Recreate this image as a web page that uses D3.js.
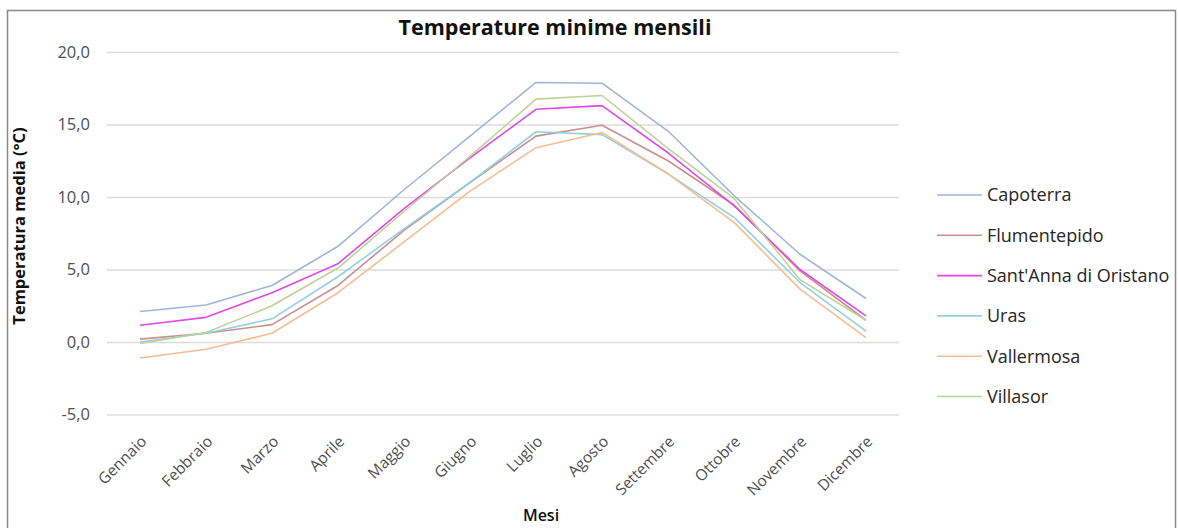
<!DOCTYPE html>
<html>
<head>
<meta charset="utf-8">
<script src="https://cdn.jsdelivr.net/npm/d3@7"></script>
<style>
  html, body { margin: 0; padding: 0; background: #ffffff; }
  svg { display: block; }
  text { font-family: "Open Sans", "Liberation Sans", sans-serif; }
</style>
</head>
<body>
<svg id="chart" width="1178" height="528"></svg>
<script>
// Mesi dell'anno (asse delle categorie)
const months = ["Gennaio", "Febbraio", "Marzo", "Aprile", "Maggio", "Giugno",
                "Luglio", "Agosto", "Settembre", "Ottobre", "Novembre", "Dicembre"];

// Temperature minime medie mensili per stazione (°C)
const capoterra    = [2.1, 2.55, 3.9, 6.6, 10.5, 14.2, 17.9, 17.85, 14.55, 10.1, 6.05, 3.0];
const flumentepido = [0.2, 0.6, 1.2, 3.9, 7.7, 11.0, 14.2, 14.95, 12.5, 9.45, 4.9, 1.5];
const santAnna     = [1.15, 1.7, 3.4, 5.4, 9.2, 12.7, 16.05, 16.3, 13.05, 9.4, 5.0, 1.8];
const uras         = [0.0, 0.6, 1.6, 4.5, 7.8, 11.0, 14.5, 14.3, 11.6, 8.6, 4.1, 0.75];
const vallermosa   = [-1.1, -0.5, 0.6, 3.4, 6.9, 10.4, 13.4, 14.45, 11.6, 8.25, 3.65, 0.3];
const villasor     = [-0.1, 0.65, 2.5, 5.1, 9.0, 12.8, 16.75, 17.0, 13.35, 9.9, 4.3, 1.5];

const seriesNames = ["Capoterra", "Flumentepido", "Sant'Anna di Oristano", "Uras", "Vallermosa", "Villasor"];
const seriesValues = [capoterra, flumentepido, santAnna, uras, vallermosa, villasor];
const seriesColors = ["#9fb5da", "#c98f90", "#e04ae4", "#93d0e2", "#f7bd92", "#bdd39a"];

// Valori dell'asse Y
const yTicks = [-5, 0, 5, 10, 15, 20];

const svg = d3.select("#chart");

// Cornice del grafico
svg.append("rect")
  .attr("x", 7.5).attr("y", 10.5)
  .attr("width", 1168).attr("height", 540)
  .attr("fill", "none")
  .attr("stroke", "#8a8a8a")
  .attr("stroke-width", 1.5);

const plot = { left: 107, right: 899, top: 52, bottom: 414.5 };

const x = d3.scalePoint()
  .domain(months)
  .range([plot.left, plot.right])
  .padding(0.5);

const y = d3.scaleLinear()
  .domain([-5, 20])
  .range([plot.bottom, plot.top]);

const fmt = v => d3.format(".1f")(v).replace(".", ",").replace("−", "-");

// Griglia orizzontale ed etichette Y
const yAxis = d3.axisLeft(y)
  .tickValues(yTicks)
  .tickSize(-(plot.right - plot.left))
  .tickPadding(17)
  .tickFormat(fmt);

const gy = svg.append("g")
  .attr("transform", `translate(${plot.left},0)`)
  .call(yAxis);
gy.select(".domain").remove();
gy.selectAll(".tick line")
  .attr("stroke", "#dcdcdc")
  .attr("stroke-width", 1.4);
gy.selectAll(".tick text")
  .attr("fill", "#4f4f4f")
  .style("font-size", "16.5px");

// Etichette dei mesi ruotate
const xAxis = d3.axisBottom(x).tickSize(0).tickPadding(0);
const gx = svg.append("g")
  .attr("transform", `translate(0,${plot.bottom})`)
  .call(xAxis);
gx.select(".domain").remove();
gx.selectAll(".tick text")
  .attr("fill", "#4f4f4f")
  .style("font-size", "15.5px")
  .attr("text-anchor", "end")
  .attr("dy", null)
  .attr("transform", "translate(7,28) rotate(-45)");

// Linee delle stazioni
const line = d3.line()
  .x((d, i) => x(months[i]))
  .y(d => y(d));

svg.append("g")
  .selectAll("path")
  .data(seriesValues)
  .join("path")
  .attr("d", line)
  .attr("fill", "none")
  .attr("stroke", (d, i) => seriesColors[i])
  .attr("stroke-width", 1.6)
  .attr("stroke-linejoin", "round");

// Legenda
const legend = svg.append("g")
  .attr("transform", "translate(937,195)");
const items = legend.selectAll("g")
  .data(seriesNames)
  .join("g")
  .attr("transform", (d, i) => `translate(0,${i * 40.3})`);
items.append("line")
  .attr("x1", 0).attr("x2", 45)
  .attr("y1", 0).attr("y2", 0)
  .attr("stroke", (d, i) => seriesColors[i])
  .attr("stroke-width", 1.6);
items.append("text")
  .attr("x", 50)
  .attr("dy", "0.35em")
  .attr("fill", "#262626")
  .style("font-size", "18px")
  .text(d => d);

// Titolo
svg.append("text")
  .attr("x", 555).attr("y", 35)
  .attr("text-anchor", "middle")
  .attr("fill", "#111111")
  .style("font-size", "21.5px")
  .style("font-weight", "bold")
  .text("Temperature minime mensili");

// Titolo asse Y
svg.append("text")
  .attr("transform", "translate(25,226) rotate(-90)")
  .attr("text-anchor", "middle")
  .attr("fill", "#111111")
  .style("font-size", "16.5px")
  .style("font-weight", "bold")
  .text("Temperatura media (°C)");

// Titolo asse X
svg.append("text")
  .attr("x", 541).attr("y", 521)
  .attr("text-anchor", "middle")
  .attr("fill", "#111111")
  .style("font-size", "16px")
  .style("font-weight", "600")
  .text("Mesi");
</script>
</body>
</html>
